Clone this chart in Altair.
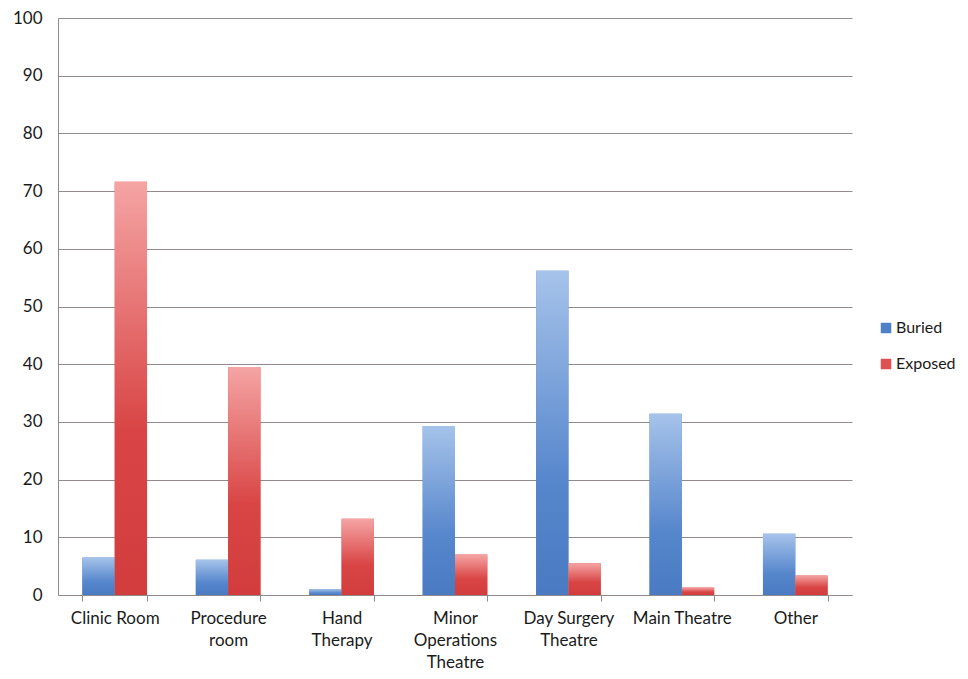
import json
import altair as alt
import pandas as pd

categories = ["Clinic Room", "Procedure room", "Hand Therapy", "Minor Operations Theatre",
              "Day Surgery Theatre", "Main Theatre", "Other"]
label_lines = [["Clinic Room"], ["Procedure", "room"], ["Hand", "Therapy"],
               ["Minor", "Operations", "Theatre"], ["Day Surgery", "Theatre"],
               ["Main Theatre"], ["Other"]]
series = ["Buried", "Exposed"]
buried = [6.5, 6.1, 1.0, 29.3, 56.2, 31.4, 10.6]
exposed = [71.6, 39.5, 13.2, 7.0, 5.5, 1.3, 3.4]
y_ticks = list(range(0, 101, 10))

rows = []
for c, b, e in zip(categories, buried, exposed):
    rows.append({"category": c, "series": "Buried", "value": b})
    rows.append({"category": c, "series": "Exposed", "value": e})
df = pd.DataFrame(rows)

label_map = {c: l for c, l in zip(categories, label_lines)}
label_expr = json.dumps(label_map) + "[datum.value]"

FONT = "Lato"
GRID = "#928a8a"

grad_blue = {"gradient": "linear", "x1": 0, "y1": 0, "x2": 0, "y2": 1,
             "stops": [{"offset": 0, "color": "#a6c3ea"},
                       {"offset": 0.65, "color": "#5686cc"},
                       {"offset": 1, "color": "#4a7bc2"}]}
grad_red = {"gradient": "linear", "x1": 0, "y1": 0, "x2": 0, "y2": 1,
            "stops": [{"offset": 0, "color": "#f5a4a4"},
                      {"offset": 0.6, "color": "#d94545"},
                      {"offset": 1, "color": "#d23c3c"}]}

x_enc = alt.X("category:N", sort=categories,
              scale=alt.Scale(paddingInner=0.43, paddingOuter=0.215),
              axis=alt.Axis(title=None, labelAngle=0, labelExpr=label_expr,
                            tickBand="extent", ticks=True, tickSize=6,
                            tickColor=GRID, domainColor=GRID, grid=False,
                            labelFont=FONT, labelFontSize=17, labelColor="#1a1a1a",
                            labelPadding=9, labelLineHeight=22, labelBaseline="top"))
xoff_enc = alt.XOffset("series:N", scale=alt.Scale(domain=series, paddingInner=0, paddingOuter=0))
y_enc = alt.Y("value:Q", scale=alt.Scale(domain=[0, 100]),
              axis=alt.Axis(title=None, values=y_ticks, grid=True, gridColor=GRID,
                            ticks=False, domainColor=GRID, labelPadding=16,
                            labelFont=FONT, labelFontSize=17, labelColor="#1a1a1a"))

base = alt.Chart(df).encode(x=x_enc, xOffset=xoff_enc, y=y_enc)

legend_layer = base.mark_bar().encode(
    color=alt.Color("series:N", scale=alt.Scale(domain=series, range=["#4f81c9", "#e05252"]),
                    legend=alt.Legend(title=None, orient="none", legendX=820, legendY=302,
                                      symbolType="square", symbolSize=110, symbolStrokeWidth=0,
                                      labelFont=FONT, labelFontSize=16, labelColor="#1a1a1a",
                                      rowPadding=20, padding=0, labelOffset=2))
)
grad_layer = base.mark_bar().encode(
    fill=alt.condition("datum.series === 'Buried'", alt.value(grad_blue), alt.value(grad_red))
)

chart = alt.layer(legend_layer, grad_layer).properties(
    width=794, height=577,
    autosize=alt.AutoSizeParams(type="none"),
    padding={"left": 50, "top": 10, "right": 108, "bottom": 76},
).configure_view(strokeWidth=0)

chart.save("out.html", embed_options={"renderer": "svg", "actions": False})
